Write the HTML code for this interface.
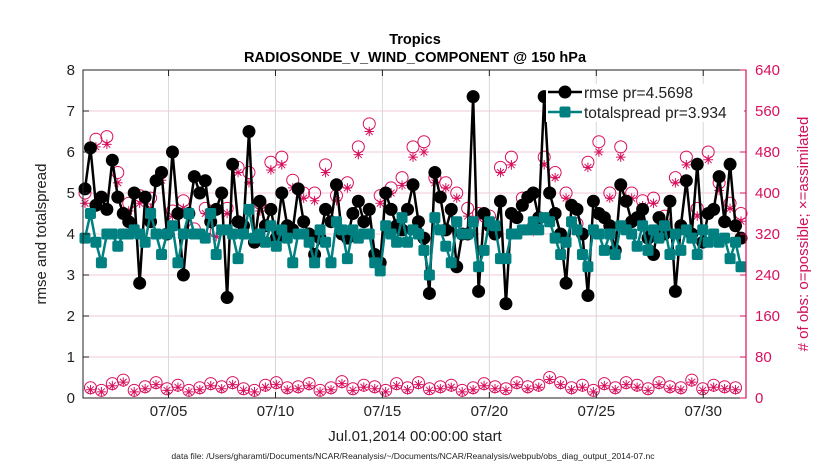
<!DOCTYPE html>
<html><head><meta charset="utf-8"><style>
body{margin:0;background:#fff;}
svg{display:block;font-family:"Liberation Sans",Arial,sans-serif;}
</style></head><body>
<svg id="chart" width="830" height="470">
<rect width="830" height="470" fill="#fff"/>
<rect x="83" y="70" width="663" height="328" fill="#fff"/>
<g id="grid"></g>
<g id="obs"></g>
<g id="series"></g>
<rect x="83" y="70" width="663" height="328" fill="none" stroke="#222" stroke-width="1"/>
<g id="axes"></g>
<text x="415" y="44" text-anchor="middle" font-size="14.5" font-weight="bold">Tropics</text>
<text x="415" y="62" text-anchor="middle" font-size="14.5" font-weight="bold">RADIOSONDE_V_WIND_COMPONENT @ 150 hPa</text>
<text transform="translate(46,234) rotate(-90)" text-anchor="middle" font-size="15" fill="#222">rmse and totalspread</text>
<text transform="translate(808,234) rotate(-90)" text-anchor="middle" font-size="15" fill="#d0105a"># of obs: o=possible; ×=assimilated</text>
<text x="415" y="441" text-anchor="middle" font-size="15" fill="#222">Jul.01,2014 00:00:00 start</text>
<text x="413" y="459" text-anchor="middle" font-size="8.6" fill="#222">data file: /Users/gharamti/Documents/NCAR/Reanalysis/~/Documents/NCAR/Reanalysis/webpub/obs_diag_output_2014-07.nc</text>
<g id="legend"></g>
</svg>
<script>
const rmse=[5.1,6.1,4.7,4.9,4.6,5.8,4.9,4.5,4.3,5.0,
2.8,4.9,4.3,5.3,5.5,4.0,6.0,4.5,3.0,4.5,
5.4,5.0,5.3,4.3,4.6,5.0,2.45,5.7,4.3,4.2,
6.5,3.8,4.8,4.2,4.6,3.9,5.0,4.2,4.1,5.1,
4.3,4.0,3.5,3.9,4.6,4.3,5.2,4.0,3.9,4.5,
4.8,4.3,4.6,3.5,3.3,5.0,4.6,4.2,4.1,4.6,
5.2,4.3,3.9,2.55,5.5,4.9,4.1,4.6,3.2,4.0,
4.0,7.35,2.6,4.5,4.2,4.0,4.8,2.3,4.5,4.4,
4.7,4.9,5.0,4.4,7.35,5.0,4.5,4.0,2.8,4.7,
4.6,4.0,2.5,4.8,4.5,4.4,4.2,3.6,5.2,4.8,
4.3,4.4,4.6,3.9,3.5,4.4,4.0,4.8,2.6,4.2,
5.3,4.0,5.7,3.8,4.5,4.6,5.4,4.3,5.7,4.2,3.9];
const spread=[3.9,4.5,3.8,3.3,4.0,4.0,3.7,4.0,4.0,4.1,
4.0,3.8,4.5,4.0,3.5,4.0,4.2,3.3,4.0,4.5,
4.0,4.0,3.9,4.5,3.5,4.1,4.1,4.0,3.4,4.0,
4.6,3.9,4.0,3.8,4.2,3.7,4.1,3.9,3.3,4.0,
4.0,3.8,3.3,4.1,3.8,3.3,4.3,4.1,3.4,4.1,
3.9,4.0,4.0,3.3,3.1,4.2,4.0,3.8,4.4,3.8,
4.1,4.0,3.6,3.0,4.4,4.1,3.7,3.3,4.3,4.0,
4.0,4.3,3.2,3.6,4.3,4.2,3.4,3.4,4.0,4.0,
4.1,4.1,4.3,4.1,4.4,4.3,3.9,3.5,3.8,4.3,
4.1,3.5,3.2,4.1,4.0,3.6,4.0,3.5,4.2,4.1,
4.0,3.7,4.2,3.6,4.1,3.9,4.2,3.5,4.0,3.6,
4.1,3.9,3.5,4.1,3.8,4.0,3.8,3.9,3.4,3.8,3.2];
const possHigh=[400,505,510,440,380,395,390,440,365,385,330,370,325,370,450,440,380,460,470,425,400,400,455,395,420,490,535,395,410,430,490,500,430,420,400,370,360,355,450,470,390,335,470,440,400,340,460,500,400,490,400,385,390,355,430,470,370,480,420,380,360];
const assimHigh=[380,490,495,420,365,380,370,425,355,370,320,360,315,360,440,420,365,445,455,410,390,385,440,385,410,475,520,380,400,415,470,480,420,410,390,355,350,345,440,455,380,325,455,430,390,330,450,480,390,470,390,375,380,345,420,455,355,465,405,370,345];
const possLow=[20,15,28,35,15,22,30,18,25,15,20,28,22,30,18,15,25,30,20,22,28,15,20,32,18,25,22,15,28,20,30,18,22,25,15,20,28,22,18,30,22,25,40,30,20,25,15,28,20,30,25,18,30,22,20,35,18,25,22,20];
const assimLow=[16,12,24,31,12,18,26,15,21,12,16,24,18,26,15,12,21,26,16,18,24,12,16,28,15,21,18,12,24,16,26,15,18,21,12,16,24,18,15,26,18,21,36,26,16,21,12,24,16,26,21,15,26,18,16,31,15,21,18,16];
const yTicks=[0,1,2,3,4,5,6,7,8];
const rTicks=[0,80,160,240,320,400,480,560,640];
const xTickDays=[5,10,15,20,25,30];
const xTickLabels=["07/05","07/10","07/15","07/20","07/25","07/30"];

const NS="http://www.w3.org/2000/svg";
const L=83,R=746,T=70,B=398;
const xDay=d=>L+(d-1)*(R-L)/31;
const xIdx=i=>85+i*(741-85)/(rmse.length-1);
const yL=v=>B-v*(B-T)/8;
const yR=v=>B-v*(B-T)/640;
function mk(tag,attrs,parent){const e=document.createElementNS(NS,tag);for(const k in attrs)e.setAttribute(k,attrs[k]);parent.appendChild(e);return e;}
const grid=document.getElementById('grid'),axes=document.getElementById('axes'),obs=document.getElementById('obs'),ser=document.getElementById('series'),leg=document.getElementById('legend');
const RED="#d8105e",TEAL="#008080";
yTicks.forEach(v=>{
  if(v>0&&v<8){const g=mk('line',{x1:L,x2:R,y1:yL(v),y2:yL(v),stroke:'#f0c8d8','stroke-width':1},grid);
  
  }
  const tk=mk('line',{x1:L,x2:L+6,y1:yL(v),y2:yL(v),stroke:'#222'},axes);
  
  
  const t=mk('text',{x:L-8,y:yL(v)+5,'text-anchor':'end','font-size':15,fill:'#222'},axes);t.textContent=v;
  
  
});
rTicks.forEach(v=>{
  const tk=mk('line',{x1:R-6,x2:R,y1:yR(v),y2:yR(v),stroke:RED},axes);
  
  
  const t=mk('text',{x:R+9,y:yR(v)+5,'font-size':15,fill:RED},axes);t.textContent=v;
  
  
});
mk('line',{x1:R,x2:R,y1:T,y2:B,stroke:RED,'stroke-width':1.2},axes);
xTickDays.forEach((d,k)=>{
  const g=mk('line',{x1:xDay(d),x2:xDay(d),y1:T,y2:B,stroke:'#d8d8d8','stroke-width':1},grid);
  
  
  mk('line',{x1:xDay(d),x2:xDay(d),y1:B,y2:B-6,stroke:'#222'},axes);
  mk('line',{x1:xDay(d),x2:xDay(d),y1:T,y2:T+6,stroke:'#222'},axes);
  const t=mk('text',{x:xDay(d),y:B+18,'text-anchor':'middle','font-size':15,fill:'#222'},axes);t.textContent=xTickLabels[k];
  
  
});
function star(x,y,p){const r=4.8;let d='';for(let a=0;a<4;a++){const an=a*Math.PI/4;d+=`M${x-r*Math.cos(an)},${y-r*Math.sin(an)}L${x+r*Math.cos(an)},${y+r*Math.sin(an)}`;}return mk('path',{d:d,stroke:RED,'stroke-width':1,fill:'none'},p);}
rmse.forEach((_,i)=>{
  const h=i%2===0,k=Math.floor(i/2);
  const pv=h?possHigh[k]:possLow[k],av=h?assimHigh[k]:assimLow[k];
  if(pv===undefined)return;
  const c=mk('circle',{cx:xIdx(i),cy:yR(pv),r:6,fill:'none',stroke:RED,'stroke-width':1},obs);
  
  
  const s=star(xIdx(i),yR(av),obs);
  
  
});
const lineR=mk('polyline',{points:rmse.map((v,i)=>xIdx(i)+','+yL(v)).join(' '),fill:'none',stroke:'#000','stroke-width':2.5},ser);


rmse.forEach((v,i)=>{const c=mk('circle',{cx:xIdx(i),cy:yL(v),r:6.5,fill:'#000'},ser);
  
  });
const lineS=mk('polyline',{points:spread.map((v,i)=>xIdx(i)+','+yL(v)).join(' '),fill:'none',stroke:TEAL,'stroke-width':2.5},ser);


spread.forEach((v,i)=>{const s=mk('rect',{x:xIdx(i)-5.5,y:yL(v)-5.5,width:11,height:11,rx:2,fill:TEAL},ser);
  
  });
// legend
mk('rect',{x:546,y:84,width:198,height:38,fill:'#fff'},leg);
mk('line',{x1:548,x2:582,y1:92,y2:92,stroke:'#000','stroke-width':2.5},leg);
mk('circle',{cx:565,cy:92,r:6.5,fill:'#000'},leg);
const t1=mk('text',{x:584,y:98,'font-size':15.5,fill:'#222'},leg);t1.textContent='rmse pr=4.5698';


mk('line',{x1:548,x2:582,y1:112,y2:112,stroke:TEAL,'stroke-width':2.5},leg);
mk('rect',{x:559.5,y:106.5,width:11,height:11,rx:2,fill:TEAL},leg);
const t2=mk('text',{x:584,y:118,'font-size':15.5,fill:'#222'},leg);t2.textContent='totalspread pr=3.934';


</script>
</body></html>
